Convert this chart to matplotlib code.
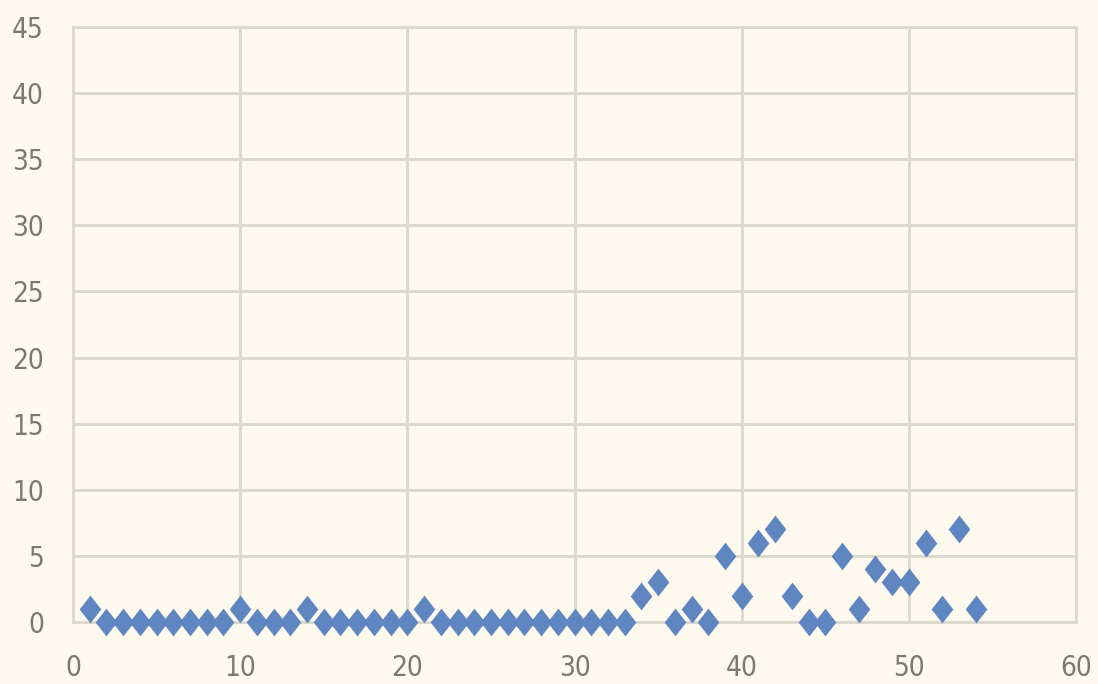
import matplotlib.pyplot as plt
from matplotlib.path import Path

# daily counts
days = list(range(1, 55))
counts = [1, 0, 0, 0, 0, 0, 0, 0, 0, 1,
          0, 0, 0, 1, 0, 0, 0, 0, 0, 0,
          1, 0, 0, 0, 0, 0, 0, 0, 0, 0,
          0, 0, 0, 2, 3, 0, 1, 0, 5, 2,
          6, 7, 2, 0, 0, 5, 1, 4, 3, 3,
          6, 1, 7, 1]

x_ticks = [0, 10, 20, 30, 40, 50, 60]
y_ticks = [0, 5, 10, 15, 20, 25, 30, 35, 40, 45]

BG = '#fdf9ee'
GRID = '#dcd9ce'
TXT = '#7a7a6e'
BLUE = '#5f86c1'

# slightly wide diamond
diamond = Path([(0, 1), (0.78, 0), (0, -1), (-0.78, 0), (0, 1)],
               [Path.MOVETO, Path.LINETO, Path.LINETO, Path.LINETO, Path.CLOSEPOLY])

fig = plt.figure(figsize=(10.98, 6.84), dpi=100, facecolor=BG)
ax = fig.add_axes([0.0665, 0.0906, 0.9135, 0.870])
ax.set_facecolor(BG)

ax.scatter(days, counts, marker=diamond, s=20**2, color=BLUE, linewidths=0, zorder=3, clip_on=False)

ax.set_xlim(0, 60)
ax.set_ylim(0, 45)
ax.set_xticks(x_ticks)
ax.set_yticks(y_ticks)
ax.grid(True, color=GRID, linewidth=2.2)
ax.set_axisbelow(True)
for s in ax.spines.values():
    s.set_color(GRID)
    s.set_linewidth(2.2)
ax.tick_params(length=0, labelcolor=TXT, labelsize=20)
ax.tick_params(axis='x', pad=23)
ax.tick_params(axis='y', pad=21)
for lab in ax.get_xticklabels() + ax.get_yticklabels():
    lab.set_family('DejaVu Sans')
    lab.set_stretch('condensed')

fig.savefig('out.png', dpi=100, facecolor=BG)
